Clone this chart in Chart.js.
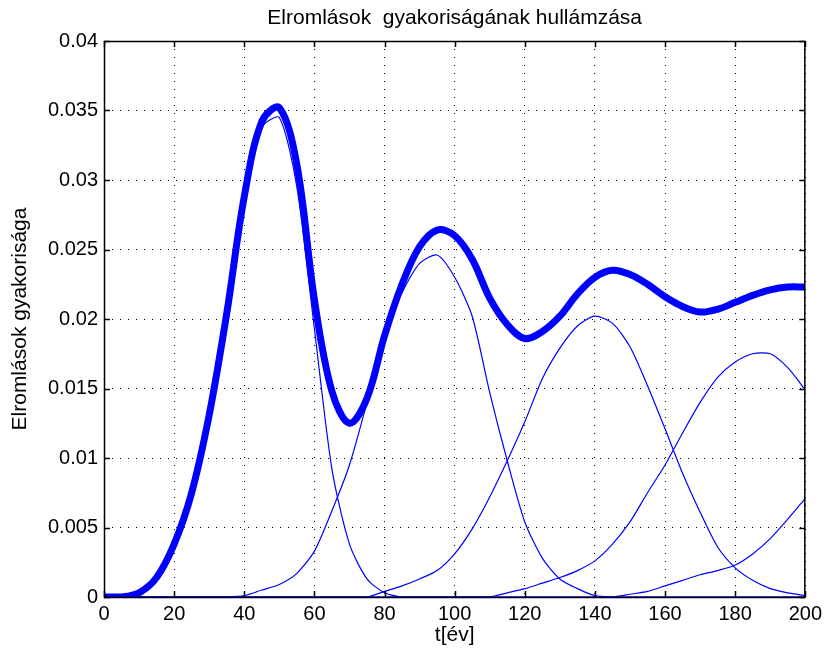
<!DOCTYPE html>
<html>
<head>
<meta charset="utf-8">
<title>Elromlások gyakoriságának hullámzása</title>
<script src="https://cdn.jsdelivr.net/npm/chart.js@4.4.1/dist/chart.umd.min.js"></script>
<style>
  html, body { margin: 0; padding: 0; background: #fff; }
  #wrap { width: 827px; height: 657px; }
</style>
</head>
<body>
<div id="wrap"><canvas id="failureWaves" width="827" height="657"></canvas></div>
<script>
// t [év], every 5 years
const years = [0, 5, 10, 15, 20, 25, 30, 35, 40, 45, 50, 55, 60, 65, 70, 75, 80, 85, 90, 95, 100,
  105, 110, 115, 120, 125, 130, 135, 140, 145, 150, 155, 160, 165, 170, 175, 180, 185, 190, 195, 200];

// thick curve: total failure rate
const totalRate = [0, 0, 0.0003, 0.0014, 0.0038, 0.0075, 0.0131, 0.0204, 0.0288, 0.0342, 0.0352,
  0.0311, 0.0214, 0.0148, 0.0125, 0.0143, 0.0188, 0.0225, 0.0252, 0.0264, 0.0260,
  0.0243, 0.0215, 0.0196, 0.0186, 0.0191, 0.0202, 0.0218, 0.0230, 0.0235, 0.0232,
  0.0225, 0.0216, 0.0209, 0.0205, 0.0207, 0.0212, 0.0217, 0.0221, 0.0223, 0.0223];

// thin curves: one wave per replacement generation
const wave1 = [0, 0, 0.0003, 0.0014, 0.0038, 0.0075, 0.0131, 0.0203, 0.0286, 0.0338, 0.0345,
  0.0295, 0.0193, 0.0092, 0.0038, 0.0013, 0.0003, 0, 0, 0, 0,
  0, 0, 0, 0, 0, 0, 0, 0, 0, 0,
  0, 0, 0, 0, 0, 0, 0, 0, 0, 0];
const wave2 = [0, 0, 0, 0, 0, 0, 0, 0, 0.0001, 0.0005, 0.0009,
  0.0017, 0.0033, 0.0062, 0.0095, 0.0140, 0.0190, 0.0219, 0.0240, 0.0246, 0.0230,
  0.0202, 0.0147, 0.0098, 0.0054, 0.0028, 0.0013, 0.0006, 0.0001, 0, 0,
  0, 0, 0, 0, 0, 0, 0, 0, 0, 0];
const wave3 = [0, 0, 0, 0, 0, 0, 0, 0, 0, 0, 0,
  0, 0, 0, 0, 0, 0.0004, 0.0008, 0.0013, 0.0019, 0.0031,
  0.0049, 0.0072, 0.0098, 0.0126, 0.0157, 0.0179, 0.0195, 0.0202, 0.0197, 0.0180,
  0.0152, 0.0121, 0.0089, 0.0061, 0.0036, 0.0021, 0.0012, 0.0006, 0.0003, 0.0001];
const wave4 = [0, 0, 0, 0, 0, 0, 0, 0, 0, 0, 0,
  0, 0, 0, 0, 0, 0, 0, 0, 0, 0,
  0, 0, 0.0003, 0.0006, 0.0010, 0.0014, 0.0019, 0.0026, 0.0038, 0.0054,
  0.0075, 0.0095, 0.0118, 0.0140, 0.0158, 0.0169, 0.0175, 0.0175, 0.0165, 0.0149];
const wave5 = [0, 0, 0, 0, 0, 0, 0, 0, 0, 0, 0,
  0, 0, 0, 0, 0, 0, 0, 0, 0, 0,
  0, 0, 0, 0, 0, 0, 0, 0, 0, 0.0002,
  0.0004, 0.0008, 0.0012, 0.0016, 0.0019, 0.0023, 0.0031, 0.0042, 0.0056, 0.0071];

const xTicks = [0, 20, 40, 60, 80, 100, 120, 140, 160, 180, 200];
const yTicks = [0, 0.005, 0.01, 0.015, 0.02, 0.025, 0.03, 0.035, 0.04];

const FONT = "'Liberation Sans', Arial, sans-serif";
const BLUE = '#0000ff';

const toPoints = arr => years.map((t, i) => ({ x: t, y: arr[i] }));
const thin = (label, arr) => ({
  label, data: toPoints(arr), borderColor: BLUE, borderWidth: 1.2,
  pointRadius: 0, tension: 0.25, fill: false
});

// box around the plot with inward tick marks, like a matlab figure
const matlabBox = {
  id: 'matlabBox',
  afterDatasetsDraw(chart) {
    const { ctx, chartArea: a, scales: { x, y } } = chart;
    ctx.save();
    ctx.strokeStyle = '#000';
    ctx.lineWidth = 1.5;
    ctx.beginPath();
    x.ticks.forEach(t => {
      const px = Math.round(x.getPixelForValue(t.value)) + 0.5;
      ctx.moveTo(px, a.bottom); ctx.lineTo(px, a.bottom - 6);
      ctx.moveTo(px, a.top); ctx.lineTo(px, a.top + 6);
    });
    y.ticks.forEach(t => {
      const py = Math.round(y.getPixelForValue(t.value)) + 0.5;
      ctx.moveTo(a.left, py); ctx.lineTo(a.left + 6, py);
      ctx.moveTo(a.right, py); ctx.lineTo(a.right - 6, py);
    });
    ctx.stroke();
    ctx.strokeRect(a.left + 0.5, a.top + 0.5, a.right - a.left - 1, a.bottom - a.top);
    ctx.restore();
  }
};

new Chart(document.getElementById('failureWaves'), {
  type: 'line',
  data: {
    datasets: [
      thin('1. hullám', wave1),
      thin('2. hullám', wave2),
      thin('3. hullám', wave3),
      thin('4. hullám', wave4),
      thin('5. hullám', wave5),
      {
        label: 'Összesen', data: toPoints(totalRate), borderColor: BLUE, borderWidth: 7,
        pointRadius: 0, tension: 0.35, fill: false
      }
    ]
  },
  options: {
    responsive: false,
    animation: false,
    devicePixelRatio: 1,
    layout: { padding: { right: 19 } },
    plugins: { legend: { display: false }, tooltip: { enabled: false } },
    scales: {
      x: {
        type: 'linear', min: 0, max: 200,
        afterBuildTicks: s => { s.ticks = xTicks.map(v => ({ value: v })); },
        afterFit: s => { s.height = 60; },
        ticks: { color: '#000', font: { family: FONT, size: 20 }, padding: 5, maxRotation: 0 },
        grid: { color: '#000', lineWidth: 1, drawTicks: false },
        border: { display: false, dash: [1, 7] },
        title: { display: true, text: 't[év]', color: '#000', font: { family: FONT, size: 21 }, padding: { bottom: 9 } }
      },
      top: {
        type: 'linear', position: 'top', min: 0, max: 200,
        afterFit: s => { s.height = 41; },
        ticks: { display: false },
        grid: { display: false, drawTicks: false },
        border: { display: false },
        title: {
          display: true, text: 'Elromlások  gyakoriságának hullámzása', color: '#000',
          font: { family: FONT, size: 21 }, padding: { top: 6, bottom: 0 }
        }
      },
      y: {
        type: 'linear', min: 0, max: 0.04,
        afterBuildTicks: s => { s.ticks = yTicks.map(v => ({ value: v })); },
        afterFit: s => { s.width = 104; },
        ticks: {
          color: '#000', font: { family: FONT, size: 20 }, padding: 6,
          callback: v => v === 0 ? '0' : String(+v.toFixed(3))
        },
        grid: { color: '#000', lineWidth: 1, drawTicks: false },
        border: { display: false, dash: [1, 7] },
        title: { display: true, text: 'Elromlások gyakorisága', color: '#000', font: { family: FONT, size: 21 }, padding: { top: 8 } }
      }
    }
  },
  plugins: [matlabBox]
});
</script>
</body>
</html>
